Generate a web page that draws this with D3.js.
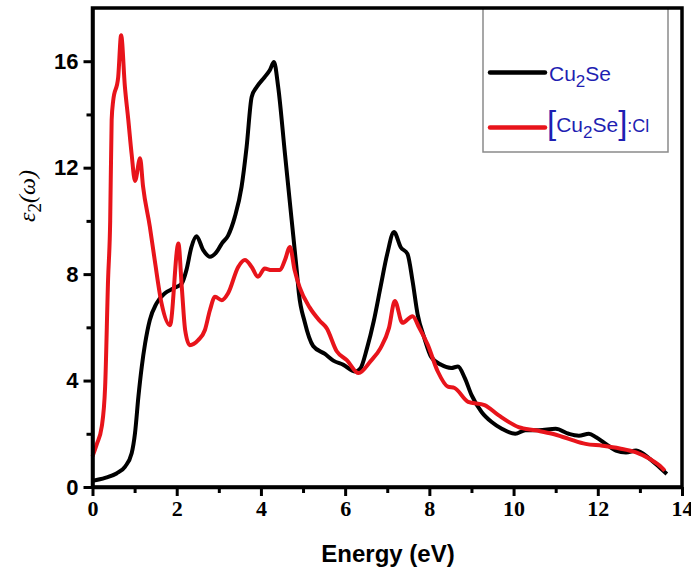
<!DOCTYPE html>
<html>
<head>
<meta charset="utf-8">
<script src="https://cdn.jsdelivr.net/npm/d3@7"></script>
<style>
  body { margin: 0; background: #fff; }
  svg { display: block; }
</style>
</head>
<body>
<div id="chart"></div>
<script>
// Cu2Se (black)
const cuEnergy = [0, 0.3, 0.57, 0.77, 0.93, 1.01, 1.09, 1.17, 1.25, 1.36, 1.52, 1.72, 1.92, 2.12, 2.23, 2.35, 2.47,
  2.63, 2.79, 2.95, 3.07, 3.22, 3.38, 3.54, 3.66, 3.78, 3.9, 4.09, 4.21, 4.31, 4.41, 4.57, 4.73, 4.85, 4.9,
  5.04, 5.24, 5.52, 5.72, 5.96, 6.24, 6.36, 6.52, 6.68, 6.84, 7.0, 7.16, 7.32, 7.48, 7.6, 7.72, 7.88, 8.04,
  8.28, 8.52, 8.68, 8.84, 9.0, 9.24, 9.48, 9.72, 10.04, 10.28, 10.6, 11.0, 11.31, 11.55, 11.79, 11.96, 12.19,
  12.43, 12.67, 12.91, 13.24, 13.47, 13.64];
const cuEps = [0.23, 0.34, 0.51, 0.76, 1.27, 2.03, 3.39, 4.52, 5.4, 6.27, 6.9, 7.28, 7.46, 7.65, 8.15, 9.02, 9.42,
  8.9, 8.65, 8.84, 9.15, 9.45, 10.15, 11.28, 12.78, 14.66, 15.03, 15.41, 15.66, 15.97, 15.03, 12.53, 10.03, 8.15, 7.3,
  6.2, 5.3, 5.0, 4.75, 4.59, 4.34, 4.45, 5.22, 6.24, 7.51, 8.76, 9.58, 9.01, 8.76, 7.75, 6.5, 5.6, 4.9,
  4.59, 4.47, 4.53, 4.1, 3.46, 2.82, 2.44, 2.19, 2.0, 2.13, 2.13, 2.19, 2.0, 1.93, 2.0, 1.87, 1.62,
  1.37, 1.3, 1.37, 1.05, 0.73, 0.49];

// [Cu2Se]:Cl (red)
const clEnergy = [0, 0.1, 0.22, 0.3, 0.37, 0.42, 0.455, 0.49, 0.61, 0.68, 0.77, 0.85, 0.93, 1.01, 1.13, 1.2, 1.36,
  1.48, 1.64, 1.84, 2.04, 2.12, 2.2, 2.31, 2.51, 2.67, 2.79, 2.91, 3.07, 3.22, 3.46, 3.62, 3.78, 3.93, 4.09,
  4.25, 4.45, 4.57, 4.69, 4.8, 4.92, 5.16, 5.4, 5.56, 5.8, 6.04, 6.32, 6.6, 6.84, 7.04, 7.18, 7.36, 7.6,
  7.76, 7.96, 8.2, 8.44, 8.6, 8.92, 9.31, 9.64, 10.12, 10.52, 10.92, 11.31, 11.71, 12.11, 12.52, 12.91,
  13.24, 13.52, 13.59];
const clEps = [1.15, 1.6, 2.27, 3.77, 7.8, 10.0, 13.8, 14.5, 15.4, 16.98, 15.03, 13.8, 12.5, 11.5, 12.35, 11.3, 9.8,
  8.5, 6.9, 6.08, 9.15, 7.52, 5.9, 5.33, 5.52, 5.9, 6.65, 7.15, 7.02, 7.28, 8.27, 8.53, 8.27, 7.9, 8.21,
  8.15, 8.15, 8.53, 9.02, 8.15, 7.5, 6.74, 6.24, 5.97, 5.1, 4.77, 4.28, 4.72, 5.22, 5.97, 6.99, 6.17, 6.42,
  5.98, 5.35, 4.34, 3.77, 3.72, 3.2, 3.08, 2.7, 2.25, 2.13, 2.0, 1.81, 1.62, 1.55, 1.45, 1.3,
  1.05, 0.73, 0.61];

const xMajor = [0, 2, 4, 6, 8, 10, 12, 14];
const xMinor = [1, 3, 5, 7, 9, 11, 13];
const yMajor = [0, 4, 8, 12, 16];
const yMinor = [2, 6, 10, 14];

const width = 691, height = 573;
const svg = d3.select("#chart").append("svg")
  .attr("width", width)
  .attr("height", height);

const x = d3.scaleLinear().domain([0, 14]).range([92.5, 682]);
const y = d3.scaleLinear().domain([0, 18]).range([487, 8]);

const line = d3.line()
  .x(d => x(d[0]))
  .y(d => y(d[1]))
  .curve(d3.curveMonotoneX);

// legend box (drawn first so the frame sits over its top)
svg.append("rect")
  .attr("x", 483).attr("y", 8)
  .attr("width", 185).attr("height", 144)
  .attr("fill", "none")
  .attr("stroke", "#8a8a8a")
  .attr("stroke-width", 1.5);

svg.append("path")
  .datum(d3.zip(cuEnergy, cuEps))
  .attr("d", line)
  .attr("fill", "none")
  .attr("stroke", "#000")
  .attr("stroke-width", 4)
  .attr("stroke-linejoin", "round");

svg.append("path")
  .datum(d3.zip(clEnergy, clEps))
  .attr("d", line)
  .attr("fill", "none")
  .attr("stroke", "#e8141b")
  .attr("stroke-width", 4)
  .attr("stroke-linejoin", "round");

// axes
const xAxis = svg.append("g")
  .attr("transform", `translate(0,${y(0)})`)
  .call(d3.axisBottom(x).tickValues(xMajor).tickSize(9).tickSizeOuter(0).tickPadding(4));
xAxis.selectAll("text")
  .style("font-family", "'Liberation Serif', 'Times New Roman', serif")
  .style("font-weight", "bold")
  .style("font-size", "22px")
  .attr("fill", "#000");

svg.append("g")
  .attr("transform", `translate(0,${y(0)})`)
  .call(d3.axisBottom(x).tickValues(xMinor).tickSize(6).tickSizeOuter(0).tickFormat(""))
  .select(".domain").remove();

const yAxis = svg.append("g")
  .attr("transform", `translate(${x(0)},0)`)
  .call(d3.axisLeft(y).tickValues(yMajor).tickSize(9).tickSizeOuter(0).tickPadding(5));
yAxis.selectAll("text")
  .style("font-family", "'Liberation Sans', Arial, sans-serif")
  .style("font-weight", "bold")
  .style("font-size", "22px")
  .attr("fill", "#000");

svg.append("g")
  .attr("transform", `translate(${x(0)},0)`)
  .call(d3.axisLeft(y).tickValues(yMinor).tickSize(6).tickSizeOuter(0).tickFormat(""))
  .select(".domain").remove();

svg.selectAll(".tick line").attr("stroke-width", 3);
svg.selectAll(".domain").attr("stroke-width", 3.5);

// frame
svg.append("rect")
  .attr("x", x(0)).attr("y", y(18))
  .attr("width", x(14) - x(0)).attr("height", y(0) - y(18))
  .attr("fill", "none")
  .attr("stroke", "#000")
  .attr("stroke-width", 3.5);

// axis titles
svg.append("text")
  .attr("x", 388).attr("y", 562)
  .attr("text-anchor", "middle")
  .style("font-family", "'Liberation Sans', Arial, sans-serif")
  .style("font-weight", "bold")
  .style("font-size", "24px")
  .text("Energy (eV)");

const yt = svg.append("text")
  .attr("transform", "translate(35,196) rotate(-90)")
  .attr("text-anchor", "middle")
  .style("font-family", "'Liberation Serif', 'Times New Roman', serif")
  .style("font-style", "italic")
  .style("font-size", "24px");
yt.append("tspan").text("ε");
yt.append("tspan").attr("dy", 6).style("font-size", "19px").style("font-style", "normal").text("2");
yt.append("tspan").attr("dy", -6).text("(ω)");

// legend
const blue = "#1f1fb2";
const legFont = "'Liberation Sans', Arial, sans-serif";

svg.append("line")
  .attr("x1", 490).attr("x2", 545).attr("y1", 72.5).attr("y2", 72.5)
  .attr("stroke", "#000").attr("stroke-width", 4.5).attr("stroke-linecap", "round");
svg.append("line")
  .attr("x1", 490).attr("x2", 545).attr("y1", 127.5).attr("y2", 127.5)
  .attr("stroke", "#e8141b").attr("stroke-width", 4.5).attr("stroke-linecap", "round");

const t1 = svg.append("text")
  .attr("x", 549).attr("y", 81)
  .style("font-family", legFont).style("font-size", "21px").attr("fill", blue);
t1.append("tspan").text("Cu");
t1.append("tspan").attr("dy", 6).style("font-size", "17px").text("2");
t1.append("tspan").attr("dy", -6).text("Se");

const t2 = svg.append("text")
  .attr("x", 547).attr("y", 134)
  .style("font-family", legFont).style("font-size", "21px").attr("fill", blue);
t2.append("tspan").attr("dy", 0).style("font-size", "33px").text("[");
t2.append("tspan").attr("dy", -2).text("Cu");
t2.append("tspan").attr("dy", 6).style("font-size", "17px").text("2");
t2.append("tspan").attr("dy", -6).text("Se");
t2.append("tspan").attr("dy", 2).style("font-size", "33px").text("]");
t2.append("tspan").attr("dy", -2).style("font-size", "18px").text(":Cl");
</script>
</body>
</html>
